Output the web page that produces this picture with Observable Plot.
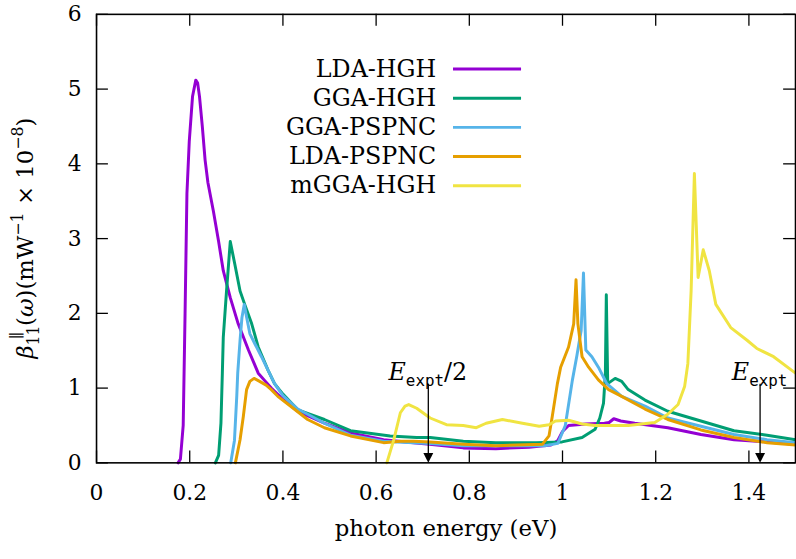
<!DOCTYPE html>
<html>
<head>
<meta charset="utf-8">
<script src="https://cdn.jsdelivr.net/npm/d3@7"></script>
<script src="https://cdn.jsdelivr.net/npm/@observablehq/plot@0.6"></script>
<style>
  html, body { margin: 0; padding: 0; background: #fff; overflow: hidden; }
  #chart { width: 796px; height: 559px; overflow: hidden; }
  #chart svg, #chart svg text, #chart svg tspan { font-family: "DejaVu Serif", serif; }
  #chart svg tspan.tt { font-family: "DejaVu Sans Mono", monospace; }
</style>
</head>
<body>
<div id="chart"></div>
<script>
// Second-order susceptibility spectra beta_11 (in mW^-1 x 1e-8) vs photon energy (eV)
const seriesNames = ["LDA-HGH", "GGA-HGH", "GGA-PSPNC", "LDA-PSPNC", "mGGA-HGH"];
const seriesColors = ["#9400d3", "#009e73", "#56b4e9", "#e69f00", "#f0e442"];

// [energy, beta] pairs for each functional / pseudopotential
const ldaHgh = [
  [0.175, 0], [0.180, 0.05], [0.186, 0.5], [0.190, 2.0], [0.194, 3.6], [0.199, 4.3],
  [0.206, 4.9], [0.213, 5.12], [0.217, 5.08], [0.221, 4.9], [0.227, 4.5], [0.233, 4.05],
  [0.239, 3.75], [0.251, 3.36], [0.262, 2.96], [0.272, 2.57], [0.287, 2.21], [0.304, 1.86],
  [0.326, 1.51], [0.347, 1.2], [0.361, 1.1], [0.375, 1.0], [0.40, 0.85], [0.432, 0.69],
  [0.489, 0.53], [0.545, 0.40], [0.616, 0.31], [0.680, 0.27], [0.715, 0.25], [0.787, 0.20],
  [0.857, 0.19], [0.928, 0.21], [0.975, 0.24], [0.99, 0.30], [1.0, 0.42], [1.013, 0.50],
  [1.05, 0.52], [1.09, 0.53], [1.10, 0.54], [1.11, 0.59], [1.125, 0.56], [1.155, 0.53],
  [1.226, 0.47], [1.297, 0.38], [1.368, 0.31], [1.438, 0.28], [1.5, 0.25]
];
const ggaHgh = [
  [0.255, 0], [0.262, 0.1], [0.267, 0.53], [0.270, 1.2], [0.272, 1.68], [0.279, 2.3],
  [0.287, 2.96], [0.297, 2.65], [0.308, 2.3], [0.318, 2.12], [0.333, 1.86], [0.347, 1.55],
  [0.368, 1.24], [0.382, 1.06], [0.40, 0.92], [0.432, 0.71], [0.489, 0.58], [0.545, 0.43],
  [0.630, 0.36], [0.687, 0.34], [0.716, 0.34], [0.787, 0.29], [0.857, 0.27], [0.943, 0.27],
  [0.999, 0.28], [1.042, 0.34], [1.07, 0.45], [1.08, 0.6], [1.088, 0.8], [1.092, 1.2],
  [1.094, 2.25], [1.097, 1.06], [1.113, 1.13], [1.127, 1.09], [1.141, 0.98], [1.177, 0.84],
  [1.226, 0.69], [1.297, 0.56], [1.368, 0.43], [1.439, 0.37], [1.5, 0.31]
];
const ggaPspnc = [
  [0.288, 0], [0.296, 0.3], [0.301, 0.9], [0.303, 1.2], [0.308, 1.64], [0.312, 1.94],
  [0.317, 2.12], [0.322, 1.95], [0.329, 1.73], [0.340, 1.59], [0.354, 1.42], [0.368, 1.24],
  [0.382, 1.06], [0.40, 0.9], [0.432, 0.72], [0.489, 0.53], [0.545, 0.37], [0.616, 0.29],
  [0.645, 0.28], [0.716, 0.26], [0.787, 0.23], [0.857, 0.23], [0.964, 0.23], [0.99, 0.26],
  [1.006, 0.5], [1.021, 1.1], [1.031, 1.44], [1.040, 1.77], [1.045, 2.54], [1.050, 1.51],
  [1.063, 1.42], [1.077, 1.28], [1.095, 1.06], [1.127, 0.89], [1.177, 0.76], [1.226, 0.6],
  [1.297, 0.49], [1.368, 0.38], [1.439, 0.31], [1.5, 0.27]
];
const ldaPspnc = [
  [0.298, 0], [0.308, 0.31], [0.315, 0.62], [0.322, 0.98], [0.329, 1.09], [0.338, 1.13],
  [0.350, 1.09], [0.364, 1.04], [0.375, 0.98], [0.389, 0.89], [0.418, 0.75], [0.453, 0.58],
  [0.489, 0.47], [0.545, 0.36], [0.616, 0.27], [0.652, 0.29], [0.680, 0.29], [0.716, 0.28],
  [0.787, 0.25], [0.857, 0.23], [0.957, 0.25], [0.971, 0.36], [0.978, 0.62], [0.989, 1.06],
  [0.996, 1.28], [1.013, 1.55], [1.024, 1.86], [1.029, 2.45], [1.033, 1.86], [1.042, 1.42],
  [1.056, 1.28], [1.077, 1.11], [1.099, 0.98], [1.127, 0.89], [1.177, 0.72], [1.226, 0.58],
  [1.297, 0.44], [1.368, 0.34], [1.439, 0.27], [1.5, 0.24]
];
const mggaHgh = [
  [0.623, 0], [0.638, 0.31], [0.652, 0.67], [0.662, 0.76], [0.670, 0.78], [0.687, 0.73],
  [0.716, 0.60], [0.751, 0.51], [0.787, 0.50], [0.815, 0.47], [0.836, 0.53], [0.871, 0.58],
  [0.914, 0.53], [0.950, 0.49], [0.971, 0.51], [0.985, 0.56], [1.013, 0.57], [1.042, 0.52],
  [1.07, 0.50], [1.141, 0.50], [1.198, 0.54], [1.226, 0.65], [1.248, 0.78], [1.262, 1.02],
  [1.269, 1.33], [1.276, 2.3], [1.283, 3.87], [1.287, 3.18], [1.291, 2.48], [1.302, 2.85],
  [1.315, 2.57], [1.329, 2.12], [1.361, 1.81], [1.396, 1.64], [1.417, 1.53], [1.453, 1.42],
  [1.5, 1.2]
];

// Experimental gap and half gap markers
const markerEnergies = [0.712, 1.424];
const markerLabels = ["/2", ""];

// Axis ticks
const xTicks = [0, 0.2, 0.4, 0.6, 0.8, 1, 1.2, 1.4];
const xTickLabels = ["0", "0.2", "0.4", "0.6", "0.8", "1", "1.2", "1.4"];
const yTicks = [0, 1, 2, 3, 4, 5, 6];
const yTickLabels = ["0", "1", "2", "3", "4", "5", "6"];

const seriesData = [ldaHgh, ggaHgh, ggaPspnc, ldaPspnc, mggaHgh];
const rows = seriesData.flatMap((pts, i) =>
  pts.map(([energy, beta]) => ({series: seriesNames[i], energy, beta}))
);

// layout
const width = 804, height = 559;
const margin = {top: 14, right: 1, bottom: 92, left: 97};
const plotW = width - margin.left - margin.right;
const plotH = height - margin.top - margin.bottom;
const tickLen = 12;

// legend placement (data units inside the frame)
const legendTextX = 0.729, legendLineX1 = 0.765, legendLineX2 = 0.911;
const legendTop = 5.27, legendStep = 0.391;
const legendRows = seriesNames.map((name, i) => ({name, y: legendTop - i * legendStep}));

// filled arrowhead with its tip at the anchor point
const arrowHead = {
  draw(context) {
    context.moveTo(0, 0);
    context.lineTo(-5, -10);
    context.lineTo(5, -10);
    context.closePath();
  }
};

const plot = Plot.plot({
  width, height,
  marginTop: margin.top, marginRight: margin.right,
  marginBottom: margin.bottom, marginLeft: margin.left,
  style: {fontSize: "22px", background: "#fff", color: "#000", overflow: "visible"},
  x: {domain: [0, 1.5], label: null},
  y: {domain: [0, 6], label: null},
  color: {domain: seriesNames, range: seriesColors},
  marks: [
    // inward ticks on all four sides
    Plot.tickX(xTicks, {x: d => d, insetTop: plotH - tickLen, stroke: "#000", strokeWidth: 1.3}),
    Plot.tickX(xTicks, {x: d => d, insetBottom: plotH - tickLen, stroke: "#000", strokeWidth: 1.3}),
    Plot.tickY(yTicks, {y: d => d, insetRight: plotW - tickLen, stroke: "#000", strokeWidth: 1.3}),
    Plot.tickY(yTicks, {y: d => d, insetLeft: plotW - tickLen, stroke: "#000", strokeWidth: 1.3}),
    Plot.axisX(xTicks, {tickSize: 0, tickPadding: 22, tickFormat: (d, i) => xTickLabels[i], fontSize: 22, label: null}),
    Plot.axisY(yTicks, {tickSize: 0, tickPadding: 15, tickFormat: (d, i) => yTickLabels[i], fontSize: 22, label: null}),
    Plot.text(["photon energy (eV)"], {frameAnchor: "bottom", dy: 74, fontSize: 23, fill: "#000"}),

    // spectra
    Plot.line(rows, {x: "energy", y: "beta", z: "series", stroke: "series", strokeWidth: 3, strokeLinejoin: "round", strokeLinecap: "round"}),

    // gap markers
    Plot.ruleX(markerEnergies, {x: d => d, y1: 0.12, y2: 1.05, stroke: "#000", strokeWidth: 1.3}),
    Plot.dot(markerEnergies, {x: d => d, y: () => 0, symbol: arrowHead, r: 3, fill: "#000", stroke: "none"}),

    // legend
    Plot.text(legendRows, {x: () => legendTextX, y: "y", text: "name", textAnchor: "end", fontSize: 24, fill: "#000"}),
    Plot.link(legendRows, {x1: () => legendLineX1, x2: () => legendLineX2, y1: "y", y2: "y", stroke: "name", strokeWidth: 3}),

    Plot.frame({stroke: "#000", strokeWidth: 1.6})
  ]
});

const sx = plot.scale("x"), sy = plot.scale("y");
const svg = d3.select(plot);

// y-axis title with sub/superscripts
const yt = svg.append("text")
  .attr("transform", `translate(33,${margin.top + plotH / 2}) rotate(-90)`)
  .attr("text-anchor", "middle")
  .attr("font-size", 23)
  .attr("fill", "#000");
yt.append("tspan").attr("font-style", "italic").text("β");
yt.append("tspan").attr("font-size", 16).attr("dy", 6).text("11");
yt.append("tspan").attr("font-size", 16).attr("dx", -14).attr("dy", -17).text("∥");
yt.append("tspan").attr("dx", 6).attr("dy", 11).text("(");
yt.append("tspan").attr("font-style", "italic").text("ω");
yt.append("tspan").text(")(mW");
yt.append("tspan").attr("font-size", 16).attr("dy", -10).text("−1");
yt.append("tspan").attr("dy", 10).text(" × 10");
yt.append("tspan").attr("font-size", 16).attr("dy", -10).text("−8");
yt.append("tspan").attr("dy", 10).text(")");

// E_expt labels above the markers
markerEnergies.forEach((e, i) => {
  const t = svg.append("text")
    .attr("x", sx.apply(e))
    .attr("y", sy.apply(1.1))
    .attr("text-anchor", "middle")
    .attr("font-size", 24)
    .attr("fill", "#000");
  t.append("tspan").attr("font-style", "italic").text("E");
  t.append("tspan").attr("class", "tt").attr("font-size", 16).attr("dy", 6).text("expt");
  if (markerLabels[i]) t.append("tspan").attr("dy", -6).text(markerLabels[i]);
});

document.getElementById("chart").appendChild(plot);
</script>
</body>
</html>
